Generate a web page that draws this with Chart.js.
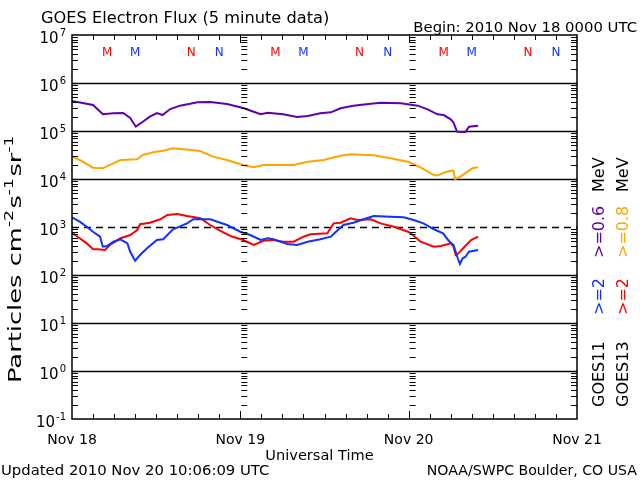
<!DOCTYPE html>
<html>
<head>
<meta charset="utf-8">
<script src="https://cdn.jsdelivr.net/npm/chart.js@4.4.1/dist/chart.umd.min.js"></script>
<style>
  html, body { margin: 0; padding: 0; background: #fff; }
  #wrap { width: 640px; height: 480px; }
</style>
</head>
<body>
<div id="wrap"><canvas id="fluxChart" width="640" height="480"></canvas></div>
<script>
// hours since 2010 Nov 18 00:00 UT, flux in particles cm-2 s-1 sr-1
const g11LowHours = [0, 3, 4.4, 5.9, 7.3, 8.3, 9.1, 10.1, 11.1, 12.1, 12.9, 14, 15.4, 17.9, 19.7, 22.1, 24.4, 25.9, 26.9, 27.9, 30.1, 32.1, 33.6, 35.4, 36.9, 38.3, 40.1, 42.6, 44, 46.9, 49.3, 50.7, 52.1, 53, 54, 54.4, 54.9, 55.4, 56.1, 56.6, 57.9];
const g11LowFlux = [4.22e5, 3.48e5, 2.23e5, 2.34e5, 2.37e5, 1.87e5, 1.23e5, 1.56e5, 1.99e5, 2.37e5, 2.15e5, 2.87e5, 3.37e5, 3.96e5, 4.02e5, 3.65e5, 3.01e5, 2.52e5, 2.23e5, 2.40e5, 2.23e5, 1.96e5, 2.05e5, 2.34e5, 2.45e5, 2.97e5, 3.37e5, 3.71e5, 3.89e5, 3.78e5, 3.37e5, 2.83e5, 2.23e5, 2.15e5, 1.75e5, 1.49e5, 9.7e4, 9.5e4, 9.5e4, 1.23e5, 1.29e5];

const g13LowHours = [0, 1.1, 3, 4.4, 5.9, 6.9, 9.3, 10.1, 11.6, 13, 14.4, 15.9, 18.3, 20.1, 22.1, 24.4, 25.9, 27.3, 29.3, 31.6, 33.6, 35.9, 37.4, 38.3, 39.7, 43, 45.4, 47.9, 49.7, 51.6, 52.1, 53, 54, 54.4, 54.6, 55.1, 56.4, 57.1, 57.9];
const g13LowFlux = [2.92e4, 2.49e4, 1.72e4, 1.67e4, 2.12e4, 2.49e4, 2.57e4, 3.16e4, 3.60e4, 3.89e4, 4.36e4, 4.16e4, 3.83e4, 2.92e4, 2.49e4, 1.96e4, 1.75e4, 1.96e4, 1.96e4, 1.96e4, 2.29e4, 2.49e4, 2.83e4, 3.06e4, 3.27e4, 3.12e4, 2.70e4, 2.29e4, 1.75e4, 1.21e4, 1.18e4, 1.35e4, 1.49e4, 1.49e4, 1.0e4, 1.06e4, 1.42e4, 1.67e4, 1.75e4];

const g11HighHours = [0, 1.1, 2.1, 3, 4, 4.4, 5, 5.9, 6.9, 7.9, 8.3, 9, 9.7, 10.7, 12.1, 13, 14.4, 16.4, 17.3, 19.7, 22.1, 24, 25.4, 26.9, 27.9, 28.7, 30.7, 32.1, 33.6, 35.4, 36.9, 37.9, 38.7, 40.1, 41.6, 43, 45.4, 47.3, 48.7, 50.1, 51.6, 52.9, 53.7, 54.4, 55, 55.3, 55.7, 56.1, 56.6, 57.9];
const g11HighFlux = [1590, 1290, 1010, 798, 628, 389, 402, 494, 555, 457, 305, 199, 261, 360, 536, 555, 896, 1190, 1450, 1450, 1100, 798, 681, 536, 582, 555, 442, 422, 494, 555, 628, 866, 1100, 1230, 1450, 1690, 1640, 1590, 1400, 1190, 896, 740, 518, 422, 223, 169, 223, 240, 305, 332];

const g13HighHours = [0, 1.1, 2.1, 3, 3.7, 4.7, 5.4, 6.9, 8.3, 9.3, 9.7, 11.1, 12.6, 13.6, 15, 16.4, 18.3, 19.7, 21.1, 22.6, 24.4, 25.9, 27.3, 28.7, 30.1, 31.6, 33, 34, 36.4, 37.3, 38.3, 39.7, 40.7, 42.6, 44, 45.9, 47.9, 48.3, 49.7, 51.6, 52.6, 54, 54.4, 54.7, 55.1, 55.9, 56.9, 57.9];
const g13HighFlux = [761, 582, 457, 343, 343, 332, 422, 582, 681, 866, 1140, 1230, 1450, 1780, 1870, 1690, 1520, 1100, 838, 649, 536, 422, 518, 536, 494, 494, 628, 705, 740, 1190, 1230, 1520, 1400, 1450, 1190, 1010, 798, 740, 494, 389, 402, 457, 389, 261, 283, 378, 536, 628];

const yTickValues = [1e7, 1e6, 1e5, 1e4, 1e3, 1e2, 1e1, 1e0, 1e-1];
const yTickExps = ['7', '6', '5', '4', '3', '2', '1', '0', '-1'];
const xTickHours = [0, 24, 48, 72];
const xTickLabels = ['Nov 18', 'Nov 19', 'Nov 20', 'Nov 21'];

// local midnight (M) / noon (N) marks for each satellite
const markHours = [5, 9, 17, 21, 29, 33, 41, 45, 53, 57, 65, 69];
const markLetters = ['M', 'M', 'N', 'N', 'M', 'M', 'N', 'N', 'M', 'M', 'N', 'N'];
const markSats = ['G13', 'G11', 'G13', 'G11', 'G13', 'G11', 'G13', 'G11', 'G13', 'G11', 'G13', 'G11'];

const colors = { G11: '#1032ff', G13: '#ff0000', G11low: '#6000b0', G13low: '#ffa500' };
const FONT = '"DejaVu Sans", sans-serif';

function toPoints(hours, flux) {
    return hours.map(function (h, i) { return { x: h, y: flux[i] }; });
}

// text drawn a little wider, the original font is a wide stroke font
function wideText(ctx, text, x, y, sx, align) {
    ctx.save();
    ctx.translate(x, y);
    ctx.scale(sx, 1);
    ctx.textAlign = align;
    ctx.fillText(text, 0, 0);
    ctx.restore();
}

const decorations = {
    id: 'goesDecor',
    beforeDatasetsDraw: function (chart) {
        const ctx = chart.ctx;
        const a = chart.chartArea;
        const ys = chart.scales.y;
        ctx.save();
        ctx.strokeStyle = '#000';
        ctx.lineWidth = 1.5;
        yTickValues.forEach(function (v) {
            if (v === 1e7 || v === 1e-1) return;
            const py = Math.round(ys.getPixelForValue(v)) + 0.5;
            ctx.setLineDash(v === 1e3 ? [7, 5] : []);
            ctx.beginPath();
            ctx.moveTo(a.left, py);
            ctx.lineTo(a.right, py);
            ctx.stroke();
        });
        ctx.restore();
    },
    afterDatasetsDraw: function (chart) {
        const ctx = chart.ctx;
        const a = chart.chartArea;
        const xs = chart.scales.x;
        const ys = chart.scales.y;
        ctx.save();
        ctx.strokeStyle = '#000';
        ctx.fillStyle = '#000';
        ctx.lineWidth = 1.5;
        ctx.strokeRect(a.left, a.top, a.right - a.left, a.bottom - a.top);

        // log minor ticks on left, right and day boundaries
        ctx.lineWidth = 1;
        for (let e = -1; e < 7; e++) {
            for (let m = 2; m <= 9; m++) {
                const py = Math.round(ys.getPixelForValue(m * Math.pow(10, e))) + 0.5;
                ctx.beginPath();
                ctx.moveTo(a.left, py); ctx.lineTo(a.left + 6, py);
                ctx.moveTo(a.right, py); ctx.lineTo(a.right - 6, py);
                [24, 48].forEach(function (h) {
                    const px = xs.getPixelForValue(h);
                    ctx.moveTo(px + 1, py); ctx.lineTo(px + 7, py);
                });
                ctx.stroke();
            }
        }
        // x ticks every 3 hours
        for (let h = 3; h < 72; h += 3) {
            const px = Math.round(xs.getPixelForValue(h)) + 0.5;
            const len = h % 24 === 0 ? 8 : 5;
            ctx.beginPath();
            ctx.moveTo(px, a.bottom); ctx.lineTo(px, a.bottom - len);
            ctx.moveTo(px, a.top); ctx.lineTo(px, a.top + len);
            ctx.stroke();
        }

        // y tick labels 10^n
        ctx.textBaseline = 'alphabetic';
        yTickValues.forEach(function (v, i) {
            const py = ys.getPixelForValue(v);
            ctx.font = '10px ' + FONT;
            ctx.textAlign = 'left';
            const ew = ctx.measureText(yTickExps[i]).width;
            const ex = 66 - ew;
            ctx.fillText(yTickExps[i], ex, py + 1);
            ctx.font = '15px ' + FONT;
            ctx.textAlign = 'right';
            ctx.fillText('10', ex - 1, py + 8);
        });
        // x tick labels
        ctx.font = '14px ' + FONT;
        ctx.textAlign = 'center';
        xTickHours.forEach(function (h, i) {
            ctx.fillText(xTickLabels[i], xs.getPixelForValue(h), 444);
        });
        // M / N marks
        ctx.font = '12px ' + FONT;
        markHours.forEach(function (h, i) {
            ctx.fillStyle = colors[markSats[i]];
            ctx.fillText(markLetters[i], xs.getPixelForValue(h), 56);
        });

        // titles and footers
        ctx.fillStyle = '#000';
        ctx.font = '15px ' + FONT;
        wideText(ctx, 'GOES Electron Flux (5 minute data)', 41, 23, 1.08, 'left');
        ctx.font = '14px ' + FONT;
        wideText(ctx, 'Begin: 2010 Nov 18 0000 UTC', 637, 32, 1.06, 'right');
        wideText(ctx, 'Universal Time', (a.left + a.right) / 2 - 5, 460, 1.04, 'center');
        wideText(ctx, 'Updated 2010 Nov 20 10:06:09 UTC', 1, 475, 1.06, 'left');
        wideText(ctx, 'NOAA/SWPC Boulder, CO USA', 637, 475, 1.01, 'right');

        // rotated y axis title
        ctx.save();
        ctx.translate(21, 383);
        ctx.rotate(-Math.PI / 2);
        ctx.scale(1.43, 1);
        ctx.textAlign = 'left';
        let cx = 0;
        const parts = [['Particles cm', 18, 0], ['-2', 12, -8], ['s', 18, 0], ['-1', 12, -8], ['sr', 18, 0], ['-1', 12, -8]];
        parts.forEach(function (p) {
            ctx.font = p[1] + 'px ' + FONT;
            ctx.fillText(p[0], cx, p[2]);
            cx += ctx.measureText(p[0]).width + (p[1] === 12 ? 1 : 0);
        });
        ctx.restore();

        // rotated legend columns
        const legendCols = [
            { x: 604, items: [['GOES11', '#000', 407], ['>=2', colors.G11, 315], ['>=0.6', colors.G11low, 258], ['MeV', '#000', 192]] },
            { x: 628, items: [['GOES13', '#000', 407], ['>=2', colors.G13, 315], ['>=0.8', colors.G13low, 258], ['MeV', '#000', 192]] }
        ];
        ctx.font = '16px ' + FONT;
        legendCols.forEach(function (col) {
            col.items.forEach(function (it) {
                ctx.save();
                ctx.translate(col.x, it[2]);
                ctx.rotate(-Math.PI / 2);
                ctx.fillStyle = it[1];
                ctx.textAlign = 'left';
                ctx.fillText(it[0], 0, 0);
                ctx.restore();
            });
        });
        ctx.restore();
    }
};

new Chart(document.getElementById('fluxChart').getContext('2d'), {
    type: 'line',
    data: {
        datasets: [
            { label: 'GOES11 >=0.6 MeV', data: toPoints(g11LowHours, g11LowFlux), borderColor: colors.G11low },
            { label: 'GOES13 >=0.8 MeV', data: toPoints(g13LowHours, g13LowFlux), borderColor: colors.G13low },
            { label: 'GOES11 >=2 MeV', data: toPoints(g11HighHours, g11HighFlux), borderColor: colors.G11 },
            { label: 'GOES13 >=2 MeV', data: toPoints(g13HighHours, g13HighFlux), borderColor: colors.G13 }
        ]
    },
    options: {
        responsive: false,
        animation: false,
        events: [],
        layout: { autoPadding: false, padding: { left: 72, top: 35, right: 63, bottom: 61 } },
        elements: {
            line: { borderWidth: 2, tension: 0, fill: false },
            point: { radius: 0 }
        },
        scales: {
            x: { type: 'linear', min: 0, max: 72, display: false },
            y: { type: 'logarithmic', min: 0.1, max: 1e7, display: false }
        },
        plugins: {
            legend: { display: false },
            tooltip: { enabled: false }
        }
    },
    plugins: [decorations]
});
</script>
</body>
</html>
